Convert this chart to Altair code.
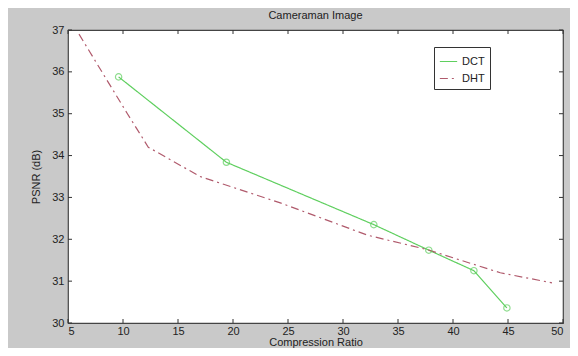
import altair as alt
import pandas as pd

dct_x = [9.6, 19.4, 32.8, 37.8, 41.9, 44.9]
dct_y = [35.88, 33.84, 32.35, 31.74, 31.25, 30.36]

dht_x = [6.0, 10.4, 12.3, 17.0, 24.3, 32.2, 37.7, 44.3, 49.0]
dht_y = [36.9, 35.0, 34.2, 33.5, 32.87, 32.1, 31.75, 31.2, 30.96]

x_ticks = [5, 10, 15, 20, 25, 30, 35, 40, 45, 50]
y_ticks = [30, 31, 32, 33, 34, 35, 36, 37]

series = ["DCT", "DHT"]
colors = ["#5fcf5f", "#b05a6c"]

W, H = 495, 293

df = pd.concat([
    pd.DataFrame({"x": dct_x, "y": dct_y, "s": "DCT"}),
    pd.DataFrame({"x": dht_x, "y": dht_y, "s": "DHT"}),
])
df_dct = df[df.s == "DCT"]

xs = alt.Scale(domain=[5, 50], nice=False)
ys = alt.Scale(domain=[30, 37], nice=False)

xax = alt.Axis(values=x_ticks, title="Compression Ratio", grid=False, tickSize=0,
               labelPadding=2, titlePadding=0, domain=False)
yax = alt.Axis(values=y_ticks, title="PSNR (dB)", grid=False, tickSize=0,
               labelPadding=4, titlePadding=10, domain=False)

color = alt.Color("s:N", scale=alt.Scale(domain=series, range=colors),
                  legend=alt.Legend(title=None, orient="none", legendX=366, legendY=17,
                                    symbolType="stroke", symbolSize=300, symbolStrokeWidth=1.2,
                                    strokeColor="#333", fillColor="white", padding=5,
                                    labelFont="Liberation Sans", labelFontSize=11,
                                    labelColor="#222", rowPadding=2))
dash = alt.StrokeDash("s:N", scale=alt.Scale(domain=series, range=[[1, 0], [8, 4, 2, 4]]),
                      legend=None)

lines = alt.Chart(df).mark_line(strokeWidth=1.2).encode(
    x=alt.X("x:Q", scale=xs, axis=xax),
    y=alt.Y("y:Q", scale=ys, axis=yax),
    color=color,
    strokeDash=dash,
)

pts = alt.Chart(df_dct).mark_point(shape="circle", size=40, filled=False, strokeWidth=1.2,
                                   color="#5fcf5f").encode(
    x=alt.X("x:Q", scale=xs),
    y=alt.Y("y:Q", scale=ys),
)

xt = pd.DataFrame({"v": x_ticks})
yt = pd.DataFrame({"v": y_ticks})
tick_col = "#333"
xb = alt.Chart(xt).mark_rule(color=tick_col).encode(
    x=alt.X("v:Q", scale=xs), y=alt.value(H), y2=alt.value(H - 4))
xtop = alt.Chart(xt).mark_rule(color=tick_col).encode(
    x=alt.X("v:Q", scale=xs), y=alt.value(0), y2=alt.value(4))
yl = alt.Chart(yt).mark_rule(color=tick_col).encode(
    y=alt.Y("v:Q", scale=ys), x=alt.value(0), x2=alt.value(4))
yr = alt.Chart(yt).mark_rule(color=tick_col).encode(
    y=alt.Y("v:Q", scale=ys), x=alt.value(W), x2=alt.value(W - 4))

chart = alt.layer(lines, pts, xb, xtop, yl, yr).properties(
    width=W, height=H,
    title=alt.TitleParams("Cameraman Image", font="Liberation Sans", fontSize=11,
                          fontWeight="normal", color="#222", offset=3),
    background="#c9c9c9",
    padding={"left": 60, "top": 22, "right": 7, "bottom": 25},
    autosize=alt.AutoSizeParams(type="none"),
).configure_view(
    fill="white", stroke="#444", strokeWidth=1.2
).configure_axis(
    labelFont="Liberation Sans", labelFontSize=11, labelColor="#222",
    titleFont="Liberation Sans", titleFontSize=11, titleColor="#222",
    titleFontWeight="normal",
)

chart.save("out.html", embed_options={"renderer": "svg", "actions": False})
